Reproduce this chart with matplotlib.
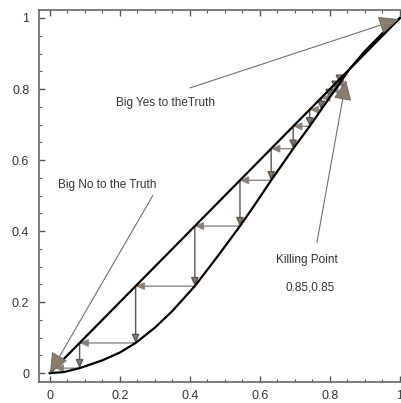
import matplotlib
matplotlib.use("Agg")
import matplotlib.pyplot as plt
from matplotlib.ticker import MultipleLocator

# Data
diag_x = [0.0, 1.0]
diag_y = [0.0, 1.0]
curve_x = [0.0, 0.04, 0.085, 0.15, 0.2, 0.245, 0.3, 0.35, 0.414, 0.48, 0.543, 0.59,
           0.632, 0.695, 0.742, 0.775, 0.798, 0.815, 0.827, 0.855, 0.9, 0.95, 1.0]
curve_y = [0.0, 0.003, 0.014, 0.036, 0.058, 0.085, 0.128, 0.175, 0.245, 0.33, 0.414, 0.481,
           0.543, 0.632, 0.695, 0.742, 0.775, 0.798, 0.815, 0.855, 0.907, 0.957, 1.0]
# cobweb iterates (points on the diagonal)
stairs = [0.827, 0.815, 0.798, 0.775, 0.742, 0.695, 0.632, 0.543, 0.414, 0.245, 0.085, 0.014]

tick_vals = [0, 0.2, 0.4, 0.6, 0.8, 1.0]
tick_labels = ["0", "0.2", "0.4", "0.6", "0.8", "1"]

notes = [
    # text, text position, arrow start, arrow end
    ("Big Yes to theTruth", (0.331, 0.76), (0.40, 0.803), (0.997, 0.997)),
    ("Big No to the Truth", (0.163, 0.53), (0.294, 0.50), (0.0, 0.0)),
    ("Killing Point", (0.734, 0.318), (0.763, 0.369), (0.846, 0.825)),
]
sub_note = ("0.85,0.85", (0.743, 0.242))

plt.rcParams['font.family'] = ['Liberation Sans', 'DejaVu Sans']

fig = plt.figure(figsize=(4.02, 4.03), dpi=100)
ax = fig.add_axes([39 / 402, 21 / 403, 368 / 402, 372 / 403])
ax.set_xlim(-0.031, 1.02)
ax.set_ylim(-0.025, 1.0225)

ax.plot(diag_x, diag_y, color='black', lw=1.6, zorder=3)
ax.plot(curve_x, curve_y, color='black', lw=1.6, zorder=3)

vcol = '#5a5550'
hcol = '#8a8680'
headcol = '#8c7d6a'
sty = '-|>,head_length=0.55,head_width=0.25'
for a, b in zip(stairs[:-1], stairs[1:]):
    ax.annotate('', xy=(a, b), xytext=(a, a),
                arrowprops=dict(arrowstyle=sty, ec=vcol, fc=headcol, lw=1.0,
                                shrinkA=0, shrinkB=0, mutation_scale=9), zorder=2)
    ax.annotate('', xy=(b, b), xytext=(a, b),
                arrowprops=dict(arrowstyle=sty, ec=hcol, fc=headcol, lw=1.0,
                                shrinkA=0, shrinkB=0, mutation_scale=9), zorder=2)

for txt, tpos, start, end in notes:
    ax.text(tpos[0], tpos[1], txt, fontsize=8.5, color='#333333',
            ha='center', va='center')
    ax.annotate('', xy=end, xytext=start,
                arrowprops=dict(arrowstyle='-|>,head_length=0.9,head_width=0.4',
                                ec='#707070', fc=headcol, lw=0.8, shrinkA=0, shrinkB=0,
                                mutation_scale=14), zorder=4)
ax.text(sub_note[1][0], sub_note[1][1], sub_note[0], fontsize=8.5, color='#333333',
        ha='center', va='center')

ax.set_xticks(tick_vals)
ax.set_xticklabels(tick_labels)
ax.set_yticks(tick_vals)
ax.set_yticklabels(tick_labels)
ax.xaxis.set_minor_locator(MultipleLocator(0.05))
ax.yaxis.set_minor_locator(MultipleLocator(0.05))
ax.tick_params(which='both', direction='in', top=True, right=True,
               color='#555555', labelsize=9, labelcolor='#333333')
ax.tick_params(which='major', length=4, width=1.0)
ax.tick_params(which='minor', length=2, width=0.8)
ax.tick_params(axis='x', pad=6)
ax.tick_params(axis='y', pad=7)
for s in ax.spines.values():
    s.set_color('#666666')
    s.set_linewidth(1.2)

fig.savefig('out.png', dpi=100)
